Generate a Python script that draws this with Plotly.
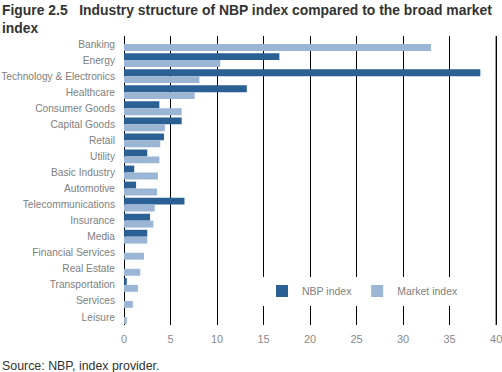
import plotly.graph_objects as go

categories = ["Banking", "Energy", "Technology & Electronics", "Healthcare", "Consumer Goods",
              "Capital Goods", "Retail", "Utility", "Basic Industry", "Automotive",
              "Telecommunications", "Insurance", "Media", "Financial Services", "Real Estate",
              "Transportation", "Services", "Leisure"]
nbp_index = [0, 16.7, 38.3, 13.2, 3.8, 6.2, 4.3, 2.5, 1.1, 1.3, 6.5, 2.8, 2.5, 0, 0, 0.3, 0, 0]
market_index = [33.0, 10.35, 8.1, 7.6, 6.2, 4.4, 3.9, 3.8, 3.65, 3.55, 3.3, 3.15, 2.5, 2.15, 1.75, 1.5, 0.95, 0.3]
x_ticks = [0, 5, 10, 15, 20, 25, 30, 35, 40]

DARK = "#2b6095"
LIGHT = "#9bb5d4"
FONT = "Liberation Sans, Arial, sans-serif"
PH = 289.0  # plot height in px
PW = 374.0  # plot width in px

fig = go.Figure()
fig.add_trace(go.Bar(y=categories, x=nbp_index, orientation="h", name="NBP index",
                     marker=dict(color=DARK, line=dict(width=0))))
fig.add_trace(go.Bar(y=categories, x=market_index, orientation="h", name="Market index",
                     marker=dict(color=LIGHT, line=dict(width=0))))

fig.update_layout(
    width=502, height=372,
    margin=dict(l=124, r=4, t=36, b=47, autoexpand=False),
    paper_bgcolor="white", plot_bgcolor="white",
    barmode="group", bargap=0.14, bargroupgap=0,
    font=dict(family=FONT, size=11, color="#808080"),
    xaxis=dict(range=[0, 40.2], tickvals=x_ticks, showgrid=True, gridcolor="black", gridwidth=1,
               zeroline=True, zerolinecolor="black", zerolinewidth=1, showline=False,
               ticks="", ticklabelstandoff=6, tickfont=dict(size=11, color="#8a8a8a"),
               ticklabeloverflow="allow", automargin=False, fixedrange=True),
    yaxis=dict(autorange="reversed", showgrid=False, showline=False, ticks="",
               ticklabelstandoff=8, tickfont=dict(size=10.2, color="#808080"), automargin=False,
               fixedrange=True),
    legend=dict(orientation="h", x=(262 - 124) / PW, y=(325 - 291) / PH, xanchor="left", yanchor="middle",
                bgcolor="white", font=dict(size=10.5, color="#808080"), itemwidth=30,
                traceorder="normal"),
    showlegend=True,
    annotations=[
        dict(text="<b>Figure 2.5   Industry structure of NBP index compared to the broad market<br>index</b>",
             xref="paper", yref="paper", x=-124 / PW, y=(325 - 0) / PH, xanchor="left", yanchor="top",
             align="left", showarrow=False,
             font=dict(family=FONT, size=13.9, color="#333333")),
        dict(text="Source: NBP, index provider.", xref="paper", yref="paper",
             x=-124 / PW, y=(325 - 366) / PH, xanchor="left", yanchor="middle", showarrow=False,
             font=dict(family=FONT, size=12.4, color="#333333")),
    ],
    shapes=[dict(type="line", xref="x", yref="paper", x0=x_ticks[-1], x1=x_ticks[-1], y0=0, y1=1,
                 line=dict(color="black", width=1), layer="below")],
)

fig.write_html("out.html", config={"displayModeBar": False},
               post_script="document.body.style.margin='0px';")
